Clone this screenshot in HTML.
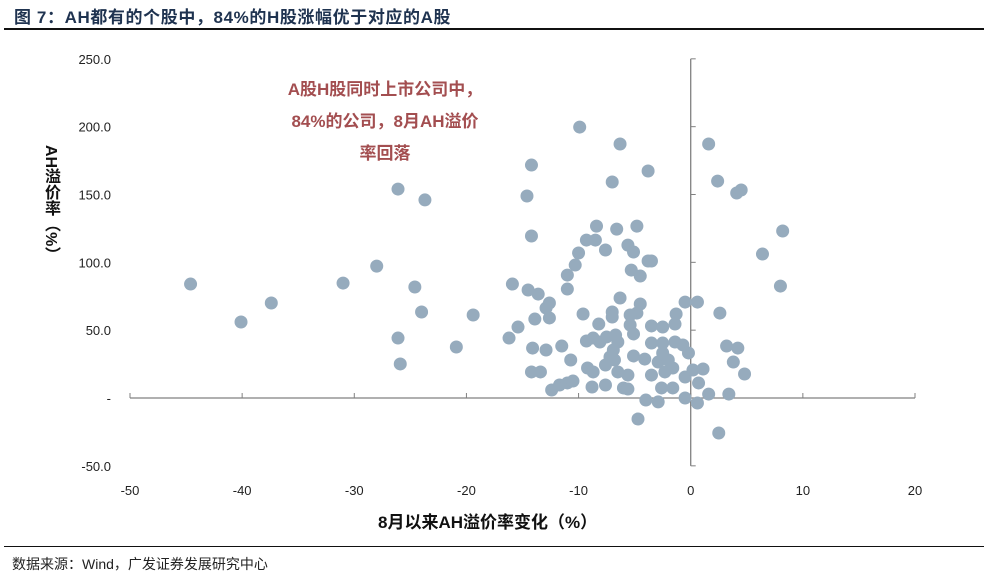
<!DOCTYPE html>
<html><head><meta charset="utf-8"><style>
body{margin:0;background:#fff;width:993px;height:575px;overflow:hidden;position:relative;font-family:"Liberation Sans","Noto Sans CJK SC",sans-serif}
.t{position:absolute;white-space:nowrap}
</style></head><body>
<div class="t" style="left:14px;top:3px;font-size:17px;letter-spacing:0.6px;font-weight:bold;color:#1f3350">图 7：AH都有的个股中，84%的H股涨幅优于对应的A股</div>
<div style="position:absolute;left:4px;top:28px;width:980px;height:1.5px;background:#111"></div>
<div style="position:absolute;left:4px;top:546px;width:980px;height:1px;background:#111"></div>
<div class="t" style="left:12px;top:554px;font-size:14px;color:#222">数据来源：Wind，广发证券发展研究中心</div>
<svg id="c" width="993" height="575" style="position:absolute;left:0;top:0"></svg>
<script>
const xVals=[-44.6,-40.1,-37.4,-31.0,-28.0,-26.1,-25.9,-26.1,-23.7,-24.6,-24.0,-20.9,-19.4,-16.2,-15.9,-15.4,-14.6,-14.2,-14.2,-14.5,-13.6,-12.6,-12.9,-13.9,-12.6,-14.1,-12.9,-11.5,-10.7,-14.2,-13.4,-12.4,-11.7,-11.0,-10.5,-11.0,-11.0,-10.3,-10.0,-9.9,-9.3,-8.5,-8.4,-7.6,-6.6,-6.3,-7.0,-4.8,-5.6,-5.1,-5.3,-4.5,-3.8,-3.5,-3.8,-9.6,-6.3,-4.5,-4.8,-5.4,-7.0,-7.0,-8.2,-5.4,-5.1,-3.5,-2.5,-1.3,-1.4,-0.5,0.6,2.6,-9.3,-8.7,-8.1,-7.5,-6.7,-6.5,-6.9,-7.2,-6.8,-7.6,-5.1,-4.1,-3.5,-2.5,-1.4,-0.7,-0.2,-2.5,-2.9,-2.0,-1.6,-2.3,-3.5,-5.6,-6.5,-9.2,-8.7,-8.8,-7.6,-6.0,-5.6,-2.6,-1.6,-0.5,0.2,1.1,0.7,-0.5,0.6,1.6,3.4,3.2,4.2,3.8,4.8,-4.0,-2.9,-4.7,2.5,1.6,2.4,4.1,4.5,6.4,8.0,8.2];
const yVals=[84.0,56.0,70.0,84.7,97.2,44.2,25.1,154,146,81.8,63.4,37.6,61.2,44.2,84.0,52.3,148.9,171.7,119.4,79.6,76.6,70.0,66.3,58.2,59.0,36.8,35.4,38.3,28.0,19.2,19.2,5.9,9.6,11.1,12.5,90.6,80.3,98.0,106.9,199.7,116.4,116.4,126.7,109.1,124.5,187.2,159.2,126.7,112.7,107.6,94.3,89.9,101.0,101.0,167.3,61.9,73.7,69.3,62.6,61.2,63.4,59.7,54.5,53.8,47.2,53.1,52.3,61.9,54.5,70.7,70.7,62.6,42.0,44.2,41.3,45.0,46.4,41.3,35.4,30.2,28.0,24.3,31.0,28.7,40.5,40.5,41.3,39.1,33.2,33.2,26.5,28.0,22.1,19.2,16.9,16.9,19.2,22.1,19.2,8.1,9.6,7.4,6.6,7.4,7.4,15.5,20.6,21.4,11.1,0,-3.7,2.9,2.9,38.3,36.8,26.5,17.7,-1.5,-2.9,-15.5,-25.8,187.2,159.9,151.1,153.3,106.1,82.5,123.1];
const xTicks=[-50,-40,-30,-20,-10,0,10,20];
const yTicks=[-50,0,50,100,150,200,250];
const yTickLabels=["-50.0","-","50.0","100.0","150.0","200.0","250.0"];
const X=v=>130+(v+50)*785/70, Y=v=>398-v*407/300;
const svg=document.getElementById('c'),NS='http://www.w3.org/2000/svg';
function mk(t,a,p){const e=document.createElementNS(NS,t);for(const k in a)e.setAttribute(k,a[k]);(p||svg).appendChild(e);return e;}
let l=mk('line',{x1:X(-50),x2:X(20),y1:Y(0),y2:Y(0),stroke:'#808080','stroke-width':1.3});


l=mk('line',{x1:X(0),x2:X(0),y1:Y(250),y2:Y(-50),stroke:'#808080','stroke-width':1.3});


xTicks.forEach(v=>{mk('line',{x1:X(v),x2:X(v),y1:Y(0),y2:Y(0)-5,stroke:'#808080'});
const t=mk('text',{x:X(v),y:495,'text-anchor':'middle','font-size':13,fill:'#222'});t.textContent=v;

});
yTicks.forEach((v,i)=>{mk('line',{x1:X(0),x2:X(0)+5,y1:Y(v),y2:Y(v),stroke:'#808080'});
const t=mk('text',{x:111,y:Y(v)+5,'text-anchor':'end','font-size':13,fill:'#222'});t.textContent=yTickLabels[i];

});
xVals.forEach((v,i)=>{const c=mk('circle',{cx:X(v),cy:Y(yVals[i]),r:6.5,fill:'#96abbd'});

});
</script>
<div class="t" style="left:255px;top:74px;width:260px;text-align:center;white-space:normal;font-size:17px;font-weight:bold;color:#a34e50;line-height:32px">A股H股同时上市公司中，<br>84%的公司，8月AH溢价<br>率回落</div>
<div class="t" style="left:41px;top:145px;font-size:16px;font-weight:bold;color:#111;writing-mode:vertical-rl;line-height:18px">AH溢价率（%）</div>
<div class="t" style="left:378px;top:508px;font-size:17px;font-weight:bold;color:#111">8月以来AH溢价率变化（%）</div>
</body></html>
